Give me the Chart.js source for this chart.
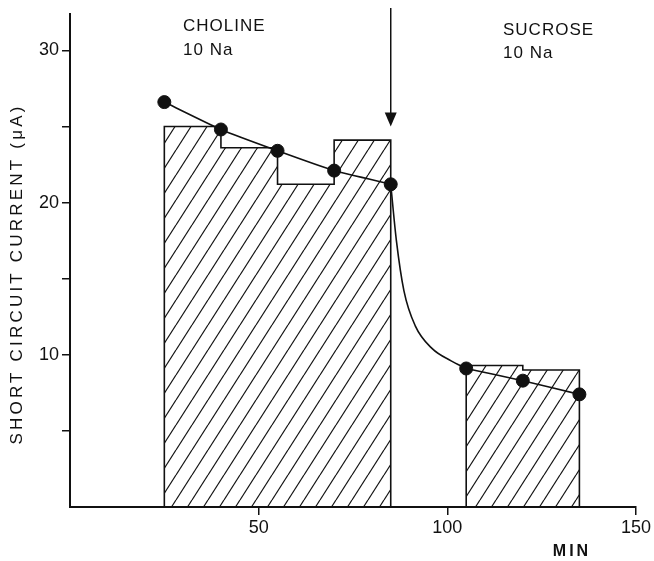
<!DOCTYPE html>
<html>
<head>
<meta charset="utf-8">
<script src="https://cdn.jsdelivr.net/npm/chart.js"></script>
<style>
  html, body { margin: 0; padding: 0; background: #fff; }
  #chart { display: block; }
</style>
</head>
<body>
<canvas id="chart" width="654" height="561"></canvas>
<script>
// Short circuit current with choline, then sucrose, as the Na substitute (10 Na)
const cholineEdges = [25, 40, 55, 70, 85];
const cholineLevels = [25.0, 23.6, 21.2, 24.1];
const sucroseEdges = [105, 120, 135];
const sucroseLevels = [9.3, 9.0];

const sampleTimes = [25, 40, 55, 70, 85, 105, 120, 135];
const sampleCurrents = [26.6, 24.8, 23.4, 22.1, 21.2, 9.1, 8.3, 7.4];

// curve for the fall after the switch, between the 85 and 105 min samples
const decayTimes = [85, 86.5, 88.5, 91.5, 96, 101, 105];
const decayCurrents = [21.2, 17.5, 14.2, 11.9, 10.4, 9.6, 9.1];

const xTicks = [50, 100, 150];
const yTicks = [5, 10, 15, 20, 25, 30];
const yLabelled = [10, 20, 30];

const switchTime = 85;
const solutionNames = ['CHOLINE', 'SUCROSE'];
const solutionNa = ['10 Na', '10 Na'];

const INK = '#111';
const FONT = '"Liberation Sans", Arial, sans-serif';

// outline of a stepped block, closed down to zero at both ends
function stepPoints(edges, levels) {
    const pts = [{ x: edges[0], y: 0 }];
    levels.forEach((v, i) => pts.push({ x: edges[i], y: v }));
    pts.push({ x: edges[edges.length - 1], y: levels[levels.length - 1] });
    pts.push({ x: edges[edges.length - 1], y: 0 });
    return pts;
}

// diagonal hatching for the blocks
function hatchPattern() {
    const w = 16, h = 25;
    const c = document.createElement('canvas');
    c.width = w;
    c.height = h;
    const g = c.getContext('2d');
    g.strokeStyle = INK;
    g.lineWidth = 1.2;
    for (const dx of [-w, 0, w]) {
        g.beginPath();
        g.moveTo(dx, h);
        g.lineTo(dx + w, 0);
        g.stroke();
    }
    return g.createPattern(c, 'repeat');
}

const hatch = hatchPattern();

function blockDataset(edges, levels) {
    return {
        type: 'line',
        data: stepPoints(edges, levels),
        stepped: 'before',
        borderColor: INK,
        borderWidth: 1.6,
        backgroundColor: hatch,
        fill: 'origin',
        pointRadius: 0,
        order: 3
    };
}

function points(xs, ys) {
    return xs.map((t, i) => ({ x: t, y: ys[i] }));
}

const firstRun = sampleTimes.filter(t => t <= switchTime);
const secondRun = sampleTimes.filter(t => t > switchTime);

function trendDataset(times) {
    return {
        type: 'line',
        data: times.map(t => ({ x: t, y: sampleCurrents[sampleTimes.indexOf(t)] })),
        borderColor: INK,
        borderWidth: 1.6,
        tension: 0.15,
        pointRadius: 0,
        fill: false,
        order: 1
    };
}

// arrow marking the solution change, plus the text labels
const annotations = {
    id: 'annotations',
    afterDatasetsDraw(chart) {
        const { ctx, scales: { x, y } } = chart;
        ctx.save();
        ctx.strokeStyle = INK;
        ctx.fillStyle = INK;

        const ax = x.getPixelForValue(switchTime);
        const top = 8;
        const tip = y.getPixelForValue(25.0);
        ctx.lineWidth = 1.5;
        ctx.beginPath();
        ctx.moveTo(ax, top);
        ctx.lineTo(ax, tip - 12);
        ctx.stroke();
        ctx.beginPath();
        ctx.moveTo(ax - 6, tip - 14);
        ctx.lineTo(ax + 6, tip - 14);
        ctx.lineTo(ax, tip);
        ctx.closePath();
        ctx.fill();

        ctx.font = '17px ' + FONT;
        ctx.textAlign = 'left';
        ctx.textBaseline = 'alphabetic';
        ctx.letterSpacing = '1px';
        ctx.fillText(solutionNames[0], 183, 31);
        ctx.fillText(solutionNa[0], 183, 55);
        ctx.fillText(solutionNames[1], 503, 35);
        ctx.fillText(solutionNa[1], 503, 58);

        ctx.font = 'bold 16px ' + FONT;
        ctx.letterSpacing = '3px';
        ctx.textAlign = 'center';
        ctx.fillText('MIN', 572, 556);

        ctx.font = '17px ' + FONT;
        ctx.letterSpacing = '3.2px';
        ctx.translate(17, 274);
        ctx.rotate(-Math.PI / 2);
        ctx.textBaseline = 'middle';
        ctx.fillText('SHORT CIRCUIT CURRENT (\u03bcA)', 0, 0);
        ctx.restore();
    }
};

const tickFont = { family: FONT, size: 18 };

new Chart(document.getElementById('chart'), {
    type: 'scatter',
    data: {
        datasets: [
            {
                data: points(sampleTimes, sampleCurrents),
                backgroundColor: INK,
                borderColor: INK,
                pointRadius: 6.5,
                clip: false,
                order: 0
            },
            trendDataset(firstRun),
            trendDataset(secondRun),
            {
                type: 'line',
                data: points(decayTimes, decayCurrents),
                borderColor: INK,
                borderWidth: 1.6,
                cubicInterpolationMode: 'monotone',
                pointRadius: 0,
                fill: false,
                order: 2
            },
            blockDataset(cholineEdges, cholineLevels),
            blockDataset(sucroseEdges, sucroseLevels)
        ]
    },
    options: {
        responsive: false,
        animation: false,
        layout: { padding: { top: 5, right: 18, left: 0, bottom: 0 } },
        plugins: {
            legend: { display: false },
            tooltip: { enabled: false }
        },
        scales: {
            x: {
                type: 'linear',
                min: 0,
                max: 150,
                afterBuildTicks: s => { s.ticks = xTicks.map(v => ({ value: v })); },
                afterFit: s => { s.height = 54; },
                grid: { drawOnChartArea: false, drawTicks: true, tickLength: 8, color: INK, lineWidth: 1.5 },
                border: { color: INK, width: 2 },
                ticks: { font: tickFont, color: INK, padding: 2, maxRotation: 0, autoSkip: false }
            },
            y: {
                min: 0,
                max: 32.4,
                afterBuildTicks: s => { s.ticks = yTicks.map(v => ({ value: v })); },
                afterFit: s => { s.width = 70; },
                grid: { drawOnChartArea: false, drawTicks: true, tickLength: 8, color: INK, lineWidth: 1.5 },
                border: { color: INK, width: 2 },
                ticks: {
                    font: tickFont,
                    color: INK,
                    padding: 3,
                    autoSkip: false,
                    callback: v => yLabelled.includes(v) ? String(v) : ''
                }
            }
        }
    },
    plugins: [annotations]
});
</script>
</body>
</html>
